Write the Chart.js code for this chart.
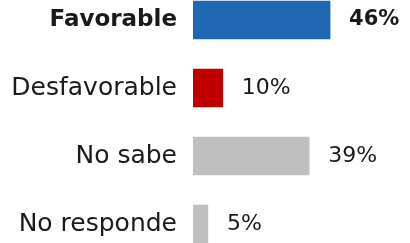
<!DOCTYPE html>
<html lang="es">
<head>
  <meta charset="UTF-8">
  <title>Opinión</title>
  <script src="https://cdn.jsdelivr.net/npm/chart.js"></script>
  <style>
    html, body { margin: 0; padding: 0; background: #fff; overflow: hidden; }
    #caja { position: relative; width: 410px; height: 243px; overflow: hidden; }
    #lienzo { position: absolute; left: 0; top: -14px; width: 410px; height: 272px; }
  </style>
</head>
<body>
  <div id="caja">
    <div id="lienzo">
      <canvas id="myChart"></canvas>
    </div>
  </div>

<script>
// datos del gráfico
const categorias = ['Favorable', 'Desfavorable', 'No sabe', 'No responde'];
const valores = [46, 10, 39, 5];
const etiquetas = ['46%', '10%', '39%', '5%'];
const colores = ['#1F67B3', '#C00000', '#BFBFBF', '#BFBFBF'];

const fuente = "'DejaVu Sans', sans-serif";

// escribe el porcentaje al final de cada barra
const valoresPlugin = {
  id: 'valores',
  afterDatasetsDraw(chart) {
    const ctx = chart.ctx;
    const meta = chart.getDatasetMeta(0);
    ctx.save();
    ctx.fillStyle = '#1a1a1a';
    ctx.textAlign = 'left';
    ctx.textBaseline = 'middle';
    meta.data.forEach(function (barra, i) {
      ctx.font = (i === 0 ? 'bold 21px ' : '22px ') + fuente;
      ctx.fillText(etiquetas[i], barra.x + 19, barra.y);
    });
    ctx.restore();
  }
};

new Chart(document.getElementById('myChart'), {
  type: 'bar',
  data: {
    labels: categorias,
    datasets: [{
      data: valores,
      backgroundColor: colores,
      borderWidth: 0,
      barThickness: 38
    }]
  },
  options: {
    indexAxis: 'y',
    responsive: true,
    maintainAspectRatio: false,
    animation: false,
    layout: { padding: { left: 0, right: 68, top: 0, bottom: 0 } },
    scales: {
      x: {
        display: false,
        min: 0,
        max: 50
      },
      y: {
        grid: { display: false, drawTicks: false },
        border: { display: false },
        afterFit: function (scale) {
          scale.width = 193;
          scale.paddingTop = 0;
          scale.paddingBottom = 0;
        },
        ticks: {
          padding: 16,
          color: '#1a1a1a',
          font: function (c) {
            return c.index === 0
              ? { family: fuente, size: 23, weight: 'bold' }
              : { family: fuente, size: 25, weight: 'normal' };
          }
        }
      }
    },
    plugins: {
      legend: { display: false },
      tooltip: { enabled: false }
    }
  },
  plugins: [valoresPlugin]
});
</script>
</body>
</html>
